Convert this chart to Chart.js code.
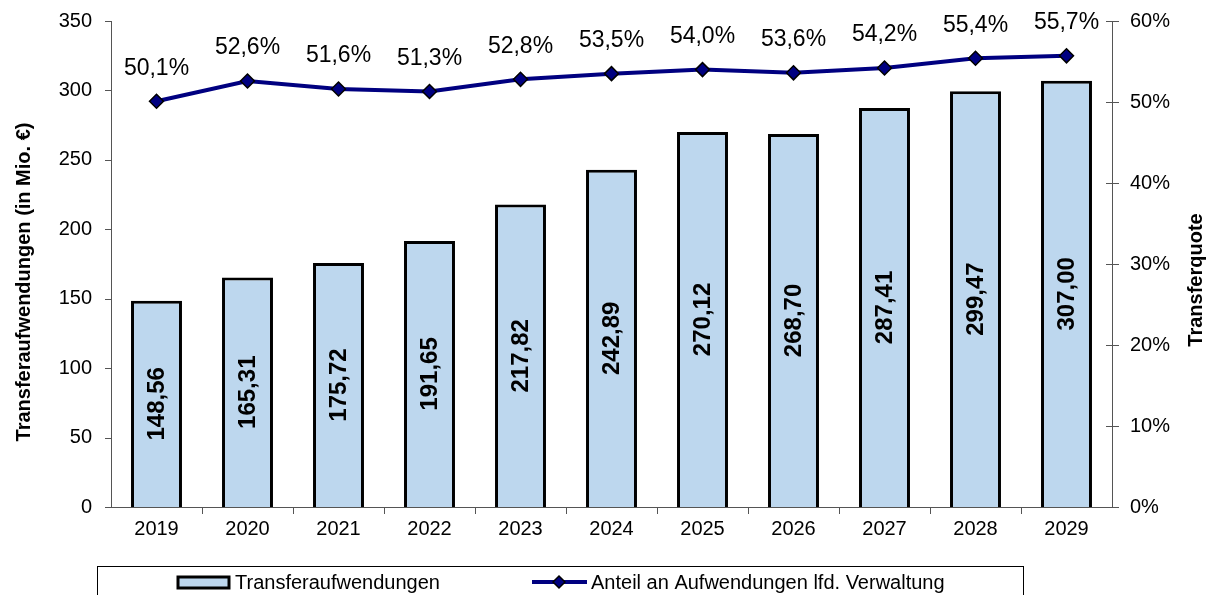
<!DOCTYPE html>
<html>
<head>
<meta charset="utf-8">
<script src="https://cdn.jsdelivr.net/npm/chart.js@4"></script>
<style>
  html, body { margin: 0; padding: 0; background: #fff; }
  #wrap { width: 1212px; height: 595px; }
</style>
</head>
<body>
<div id="wrap"><canvas id="chart" width="1212" height="595"></canvas></div>
<script>
const years = ['2019', '2020', '2021', '2022', '2023', '2024', '2025', '2026', '2027', '2028', '2029'];
const transfer = [148.56, 165.31, 175.72, 191.65, 217.82, 242.89, 270.12, 268.70, 287.41, 299.47, 307.00];
const quote = [50.1, 52.6, 51.6, 51.3, 52.8, 53.5, 54.0, 53.6, 54.2, 55.4, 55.7];
const leftTicks = [0, 50, 100, 150, 200, 250, 300, 350];
const rightTicks = [0, 10, 20, 30, 40, 50, 60];

const FONT = '"Liberation Sans", Arial, sans-serif';
const fmt = (v, d) => v.toFixed(d).replace('.', ',');

// axis lines, ticks, titles, labels and the boxed legend
const extras = {
    id: 'extras',
    afterDatasetsDraw(chart) {
        const ctx = chart.ctx;
        const a = chart.chartArea;
        const y = chart.scales.y, y1 = chart.scales.y1, x = chart.scales.x;
        ctx.save();
        ctx.strokeStyle = '#555';
        ctx.lineWidth = 1;
        ctx.beginPath();
        ctx.moveTo(a.left + 0.5, a.top); ctx.lineTo(a.left + 0.5, a.bottom);
        ctx.moveTo(a.right + 0.5, a.top); ctx.lineTo(a.right + 0.5, a.bottom);
        ctx.moveTo(a.left - 6, a.bottom + 0.5); ctx.lineTo(a.right + 7, a.bottom + 0.5);
        leftTicks.forEach(v => {
            const py = Math.round(y.getPixelForValue(v)) + 0.5;
            ctx.moveTo(a.left - 6, py); ctx.lineTo(a.left, py);
        });
        rightTicks.forEach(v => {
            const py = Math.round(y1.getPixelForValue(v)) + 0.5;
            ctx.moveTo(a.right - 6, py); ctx.lineTo(a.right + 7, py);
        });
        const step = (a.right - a.left) / years.length;
        for (let i = 1; i < years.length; i++) {
            const px = Math.round(a.left + i * step) + 0.5;
            ctx.moveTo(px, a.bottom); ctx.lineTo(px, a.bottom + 7);
        }
        ctx.stroke();

        ctx.fillStyle = '#000';
        ctx.font = '20px ' + FONT;
        ctx.textBaseline = 'middle';
        ctx.textAlign = 'right';
        leftTicks.forEach(v => ctx.fillText(String(v), a.left - 19, y.getPixelForValue(v)));
        ctx.textAlign = 'left';
        rightTicks.forEach(v => ctx.fillText(v + '%', a.right + 18, y1.getPixelForValue(v)));
        ctx.textAlign = 'center';
        years.forEach((yr, i) => ctx.fillText(yr, x.getPixelForValue(i), a.bottom + 22));

        // axis titles
        ctx.font = 'bold 20px ' + FONT;
        ctx.save();
        ctx.translate(24, 282);
        ctx.rotate(-Math.PI / 2);
        ctx.fillText('Transferaufwendungen (in Mio. €)', 0, 0);
        ctx.restore();
        ctx.save();
        ctx.translate(1196, 280);
        ctx.rotate(-Math.PI / 2);
        ctx.fillText('Transferquote', 0, 0);
        ctx.restore();

        // bar labels
        ctx.font = 'bold 24px ' + FONT;
        chart.getDatasetMeta(0).data.forEach((bar, i) => {
            ctx.save();
            ctx.translate(bar.x, (bar.y + bar.base) / 2);
            ctx.rotate(-Math.PI / 2);
            ctx.fillText(fmt(transfer[i], 2), 0, 1);
            ctx.restore();
        });
        // line labels
        ctx.font = '23px ' + FONT;
        chart.getDatasetMeta(1).data.forEach((pt, i) => {
            ctx.fillText(fmt(quote[i], 1) + '%', pt.x, pt.y - 33);
        });

        // legend
        ctx.strokeStyle = '#000';
        ctx.lineWidth = 1;
        ctx.strokeRect(97.5, 566.5, 926, 40);
        ctx.fillStyle = '#BDD7EE';
        ctx.fillRect(178, 577, 51, 11);
        ctx.lineWidth = 3;
        ctx.strokeRect(178, 577, 51, 11);
        ctx.fillStyle = '#000';
        ctx.font = '20px ' + FONT;
        ctx.textAlign = 'left';
        ctx.fillText('Transferaufwendungen', 235, 583);
        ctx.strokeStyle = '#000080';
        ctx.lineWidth = 4;
        ctx.beginPath();
        ctx.moveTo(532, 582); ctx.lineTo(587, 582);
        ctx.stroke();
        ctx.fillStyle = '#000080';
        ctx.strokeStyle = '#000';
        ctx.lineWidth = 1.5;
        ctx.beginPath();
        ctx.moveTo(559, 576); ctx.lineTo(565, 582); ctx.lineTo(559, 588); ctx.lineTo(553, 582); ctx.closePath();
        ctx.fill(); ctx.stroke();
        ctx.fillStyle = '#000';
        ctx.fillText('Anteil an Aufwendungen lfd. Verwaltung', 591, 583);
        ctx.restore();
    }
};

new Chart(document.getElementById('chart').getContext('2d'), {
    data: {
        labels: years,
        datasets: [
            {
                type: 'bar',
                label: 'Transferaufwendungen',
                data: transfer,
                yAxisID: 'y',
                backgroundColor: '#BDD7EE',
                borderColor: '#000',
                borderWidth: 3,
                categoryPercentage: 1,
                barPercentage: 0.56,
                order: 1
            },
            {
                type: 'line',
                label: 'Anteil an Aufwendungen lfd. Verwaltung',
                data: quote,
                yAxisID: 'y1',
                borderColor: '#000080',
                borderWidth: 4,
                pointStyle: 'rectRot',
                pointRadius: 7,
                pointBackgroundColor: '#000080',
                pointBorderColor: '#000',
                pointBorderWidth: 1.5,
                tension: 0,
                order: 0
            }
        ]
    },
    options: {
        responsive: false,
        animation: false,
        layout: { padding: { top: 21, left: 0, right: 0, bottom: 0 } },
        plugins: { legend: { display: false }, tooltip: { enabled: false } },
        scales: {
            x: {
                offset: true,
                grid: { display: false },
                border: { display: false },
                ticks: { display: false },
                afterFit: s => { s.height = 88; }
            },
            y: {
                position: 'left',
                min: 0, max: 350,
                grid: { display: false },
                border: { display: false },
                ticks: { display: false, stepSize: 50 },
                afterFit: s => { s.width = 111; }
            },
            y1: {
                position: 'right',
                min: 0, max: 60,
                grid: { display: false },
                border: { display: false },
                ticks: { display: false, stepSize: 10 },
                afterFit: s => { s.width = 100; }
            }
        }
    },
    plugins: [extras]
});
</script>
</body>
</html>
